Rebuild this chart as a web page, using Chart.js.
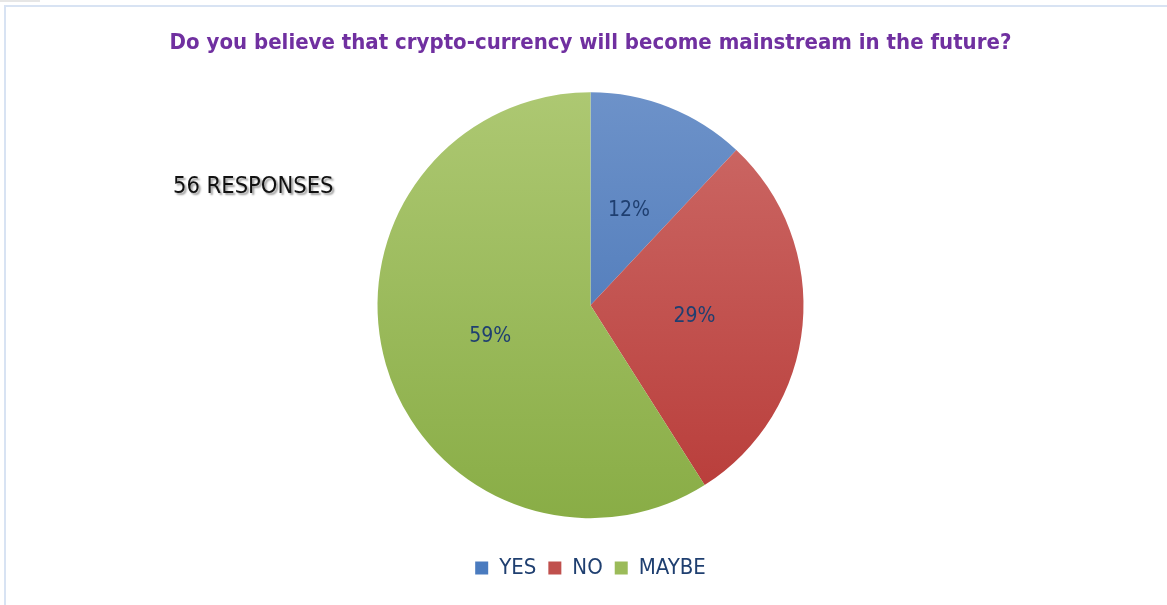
<!DOCTYPE html>
<html lang="en">
<head>
  <meta charset="UTF-8">
  <title>Crypto survey</title>
  <script src="https://cdn.jsdelivr.net/npm/chart.js"></script>
  <style>
    body { margin: 0; background: #fff; }
    .quadro { position: relative; width: 1167px; height: 605px; overflow: hidden; }
    .moldura { position: absolute; left: 4px; top: 5px; width: 1300px; height: 700px;
               border-left: 2px solid #d8e3f3; border-top: 2px solid #d8e3f3; }
    .aba { position: absolute; left: 0; top: 0; width: 40px; height: 2px; background: #e6e6e6; }
    .respostas { position: absolute; left: 173px; top: 171px; font-family: "DejaVu Sans Condensed", sans-serif;
                 font-size: 23.5px; color: #111; text-shadow: 2px 2px 2px #9a9a9a; }
    canvas { position: absolute; left: 0; top: 0; }
  </style>
</head>
<body>
<div class="quadro">
  <div class="moldura"></div>
  <div class="aba"></div>
  <canvas id="pizza" width="1167" height="605"></canvas>
  <div class="respostas">56 RESPONSES</div>
</div>

<script>
const categorias = ['YES', 'NO', 'MAYBE'];
const percentuais = [12, 29, 59];
const corTopo = ['#6d92c9', '#cd6b68', '#adc872'];
const corBase = ['#3f6eb2', '#b83b38', '#89ad46'];
const corLegenda = ['#4a7bbf', '#c0504d', '#9bbb59'];

const fonte = '"DejaVu Sans Condensed", sans-serif';
const raio = 213;

// degrade vertical em cada fatia, do topo ao fundo da pizza
function degrade(ctx) {
  const area = ctx.chart.chartArea;
  if (!area) return corLegenda[ctx.dataIndex];
  const cy = (area.top + area.bottom) / 2;
  const g = ctx.chart.ctx.createLinearGradient(0, cy - raio, 0, cy + raio);
  g.addColorStop(0, corTopo[ctx.dataIndex]);
  g.addColorStop(1, corBase[ctx.dataIndex]);
  return g;
}

// rotulos de porcentagem no meio do raio de cada fatia
const rotulos = {
  id: 'rotulos',
  afterDatasetsDraw(chart) {
    const ctx = chart.ctx;
    const meta = chart.getDatasetMeta(0);
    ctx.save();
    ctx.font = '21px ' + fonte;
    ctx.fillStyle = '#1f3f70';
    ctx.textAlign = 'center';
    ctx.textBaseline = 'middle';
    meta.data.forEach(function (arc, i) {
      const meio = (arc.startAngle + arc.endAngle) / 2;
      const r = arc.outerRadius * 0.49;
      ctx.fillText(percentuais[i] + '%', arc.x + Math.cos(meio) * r, arc.y + Math.sin(meio) * r + 2);
    });
    ctx.restore();
  }
};

const config = {
  type: 'pie',
  data: {
    labels: categorias,
    datasets: [{
      data: percentuais,
      backgroundColor: degrade,
      borderWidth: 0,
      radius: raio,
    }]
  },
  options: {
    responsive: false,
    animation: false,
    layout: { padding: { left: 14, right: 0, top: 0, bottom: 16 } },
    plugins: {
      tooltip: { enabled: false },
      title: {
        display: true,
        text: 'Do you believe that crypto-currency will become mainstream in the future?',
        color: '#7030a0',
        font: { family: fonte, size: 22, weight: 'bold' },
        padding: { top: 30, bottom: 9 },
      },
      legend: {
        position: 'bottom',
        labels: {
          color: '#1f3f70',
          boxWidth: 13,
          boxHeight: 13,
          padding: 12,
          font: { family: fonte, size: 22 },
          generateLabels: function (chart) {
            return categorias.map(function (c, i) {
              return { text: c, fillStyle: corLegenda[i], strokeStyle: corLegenda[i], lineWidth: 0, index: i, fontColor: '#1f3f70' };
            });
          }
        }
      }
    }
  },
  plugins: [rotulos]
};

const pizza = new Chart(document.getElementById('pizza'), config);
</script>
</body>
</html>
